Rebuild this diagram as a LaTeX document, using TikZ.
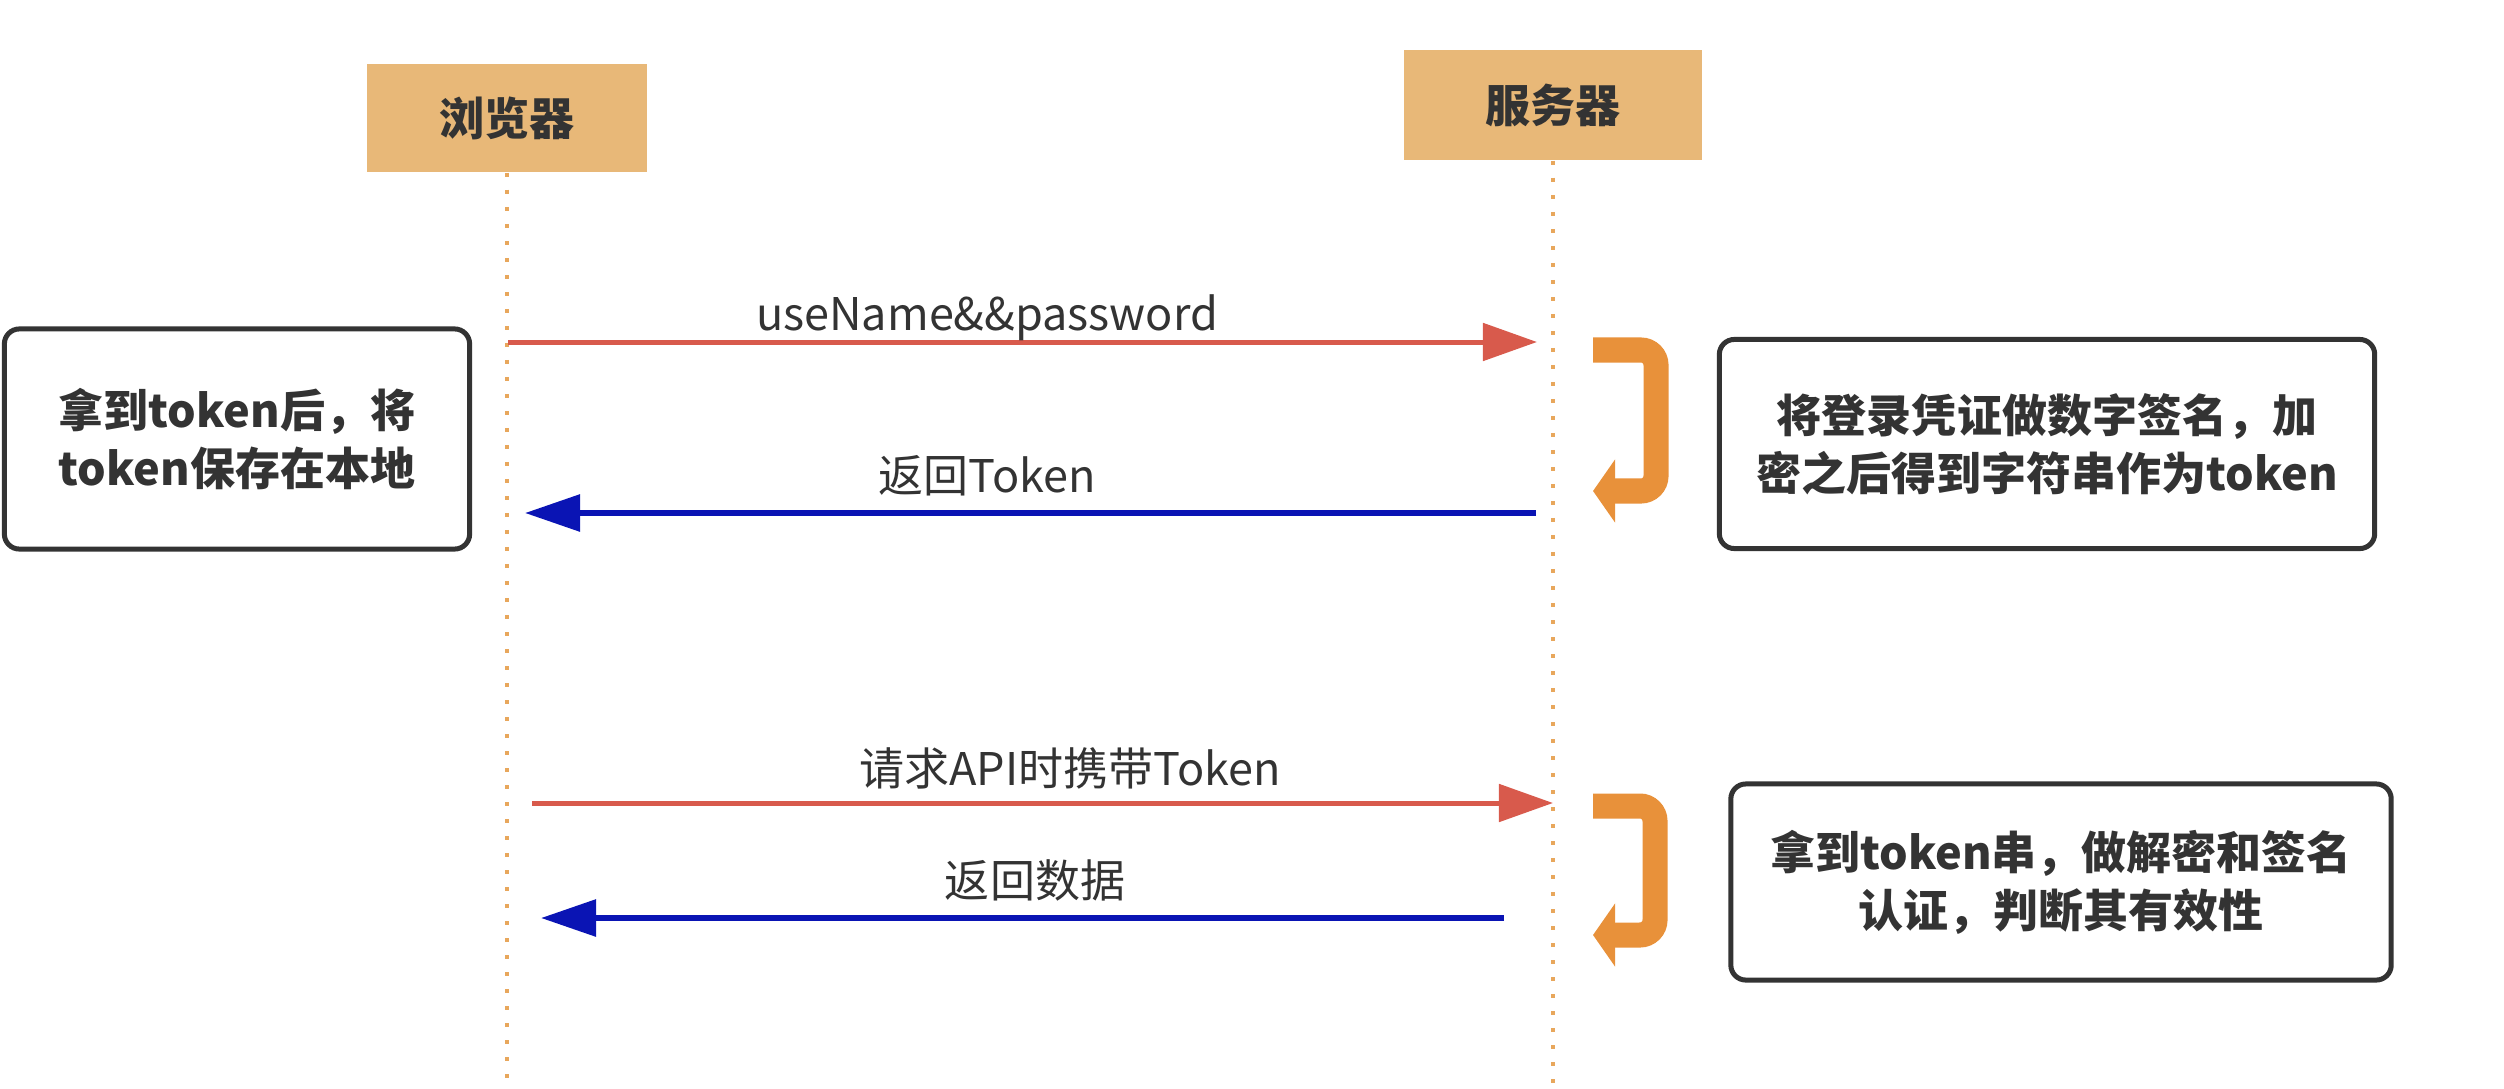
\documentclass[tikz,border=0pt]{standalone}
\usepackage{fontspec}
\setmainfont{Noto Sans CJK SC}
\usetikzlibrary{arrows.meta}

\definecolor{headfill}{HTML}{E8B878}
\definecolor{lifeorange}{HTML}{E8A75C}
\definecolor{msgred}{HTML}{D85A4C}
\definecolor{msgblue}{HTML}{0A14B4}
\definecolor{turnorange}{HTML}{E8913A}
\definecolor{textgray}{HTML}{333333}

\tikzset{
  head/.style={fill=headfill, inner sep=0pt, text=textgray,
    font=\fontsize{12.8}{15}\selectfont\bfseries},
  lifeline/.style={lifeorange, line width=0.045cm, dash pattern=on 0.04cm off 0.13cm},
  note/.style={draw=textgray, line width=0.05cm, rounded corners=0.15cm, align=center,
    inner sep=0pt, text=textgray, font=\fontsize{12.8}{16.5}\selectfont\bfseries},
  msg/.style={line width=0.05cm},
  req/.style={msg, msgred, -{Triangle[length=0.54cm, width=0.37cm]}},
  resp/.style={msg, msgblue, line width=0.06cm, -{Triangle[length=0.55cm, width=0.36cm]}},
  lbl/.style={text=textgray, inner sep=0pt, font=\fontsize{12.8}{15}\selectfont},
  uturn/.style={turnorange, line width=0.25cm, rounded corners=0.15cm,
    -{Triangle[length=0.22cm, width=0.62cm]}}
}

\begin{document}
\begin{tikzpicture}[x=0.01cm,y=-0.01cm]
  \useasboundingbox (0,0) rectangle (2504,1088);

  % participants
  \node[head, minimum width=2.8cm, minimum height=1.08cm] (browser) at (507,118) {浏览器};
  \node[head, minimum width=2.97cm, minimum height=1.10cm] (server) at (1553,105) {服务器};

  \draw[lifeline] (browser.south) -- (browser.south |- 0,1088);
  \draw[lifeline] (server.south) -- (server.south |- 0,1088);

  % login
  \coordinate (m1s) at (508,342);
  \coordinate (m1e) at (1537,342);
  \coordinate (m2s) at (1536,513);
  \coordinate (m2e) at (525,513);
  \draw[req] (m1s) -- (m1e);
  \node[lbl] (m1lbl) at (987,318) {useName\&\&password};
  \draw[resp] (m2s) -- (m2e);
  \node[lbl] (m2lbl) at (987,476) {返回Token};

  % request with token
  \coordinate (m3s) at (532,803);
  \coordinate (m3e) at (1553,803);
  \coordinate (m4s) at (1504,918);
  \coordinate (m4e) at (541,918);
  \draw[req] (m3s) -- (m3e);
  \node[lbl] (m3lbl) at (1070,768) {请求API时携带Token};
  \draw[resp] (m4s) -- (m4e);
  \node[lbl] (m4lbl) at (1035,880) {返回数据};

  % server side processing
  \draw[uturn] (1593,350) -- (1656,350) -- (1656,491) -- (1593,491);
  \draw[uturn] (1593,806) -- (1655,806) -- (1655,935) -- (1593,935);

  % notes
  \node[note, minimum width=4.65cm, minimum height=2.2cm] (store) at (237,439)
    {拿到token后，将\\token保存在本地};
  \node[note, minimum width=6.55cm, minimum height=2.09cm] (sign) at (2047,444)
    {将登录凭证做数字签名，加\\密之后得到字符串作为token};
  \node[note, minimum width=6.6cm, minimum height=1.96cm] (verify) at (2061,882)
    {拿到token串，做解密和签名\\认证，判断其有效性};
\end{tikzpicture}
\end{document}
